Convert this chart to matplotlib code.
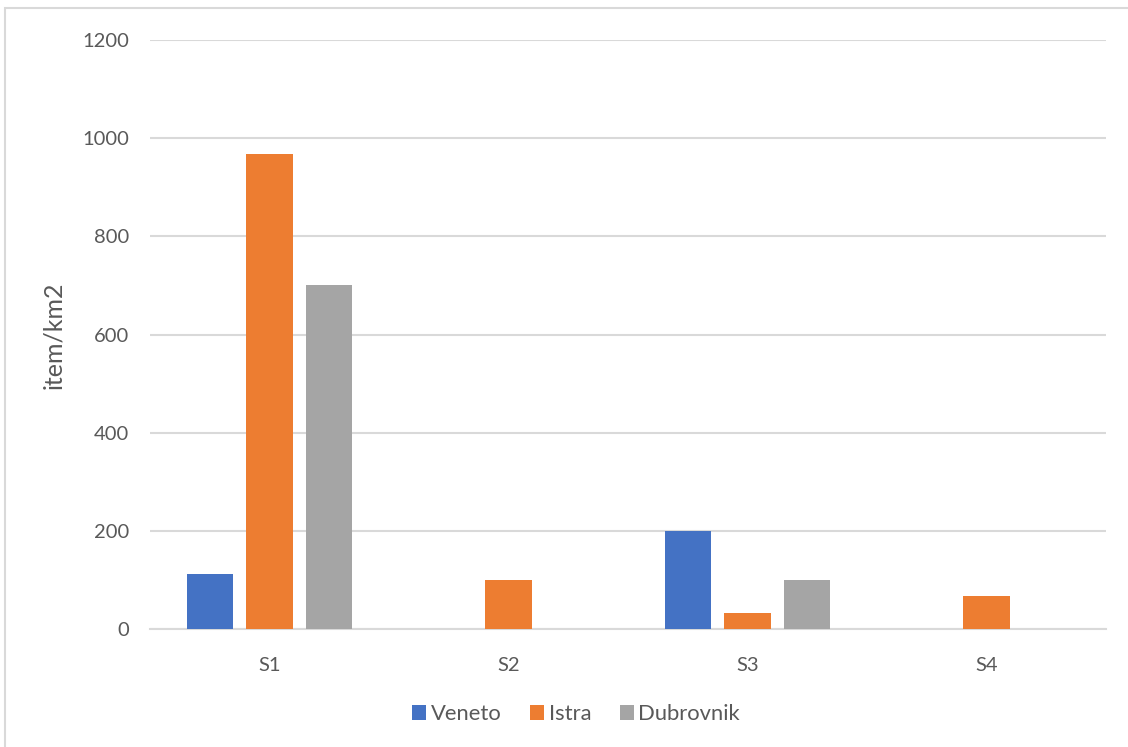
import numpy as np
import matplotlib
matplotlib.use("Agg")
import matplotlib.pyplot as plt
from matplotlib.patches import Rectangle

# item density per site and region
sites = ["S1", "S2", "S3", "S4"]
veneto = [113, 0, 200, 0]
istra = [967, 100, 33, 67]
dubrovnik = [700, 0, 100, 0]

series = [("Veneto", veneto, "#4472C4"),
          ("Istra", istra, "#ED7D31"),
          ("Dubrovnik", dubrovnik, "#A5A5A5")]

plt.rcParams['font.family'] = ['Lato', 'DejaVu Sans']
text_color = "#595959"
grid_color = "#D9D9D9"

fig = plt.figure(figsize=(11.28, 7.47), dpi=100)
ax = fig.add_axes([150 / 1128, 1 - 629 / 747, (1106 - 150) / 1128, (629 - 40) / 747])

# chart frame
fig.patches.append(Rectangle((5 / 1128, -0.05), 1.1, 1 - 8 / 747 + 0.05,
                             transform=fig.transFigure, fill=False,
                             edgecolor=grid_color, linewidth=1.5))

x = np.arange(len(sites))
width = 0.193
offset = 0.249
for i, (name, vals, color) in enumerate(series):
    ax.bar(x + (i - 1) * offset, vals, width, color=color, label=name, zorder=3)

ax.set_xlim(-0.5, len(sites) - 0.5)
ax.set_ylim(0, 1200)
ax.set_yticks(np.arange(0, 1201, 200))
ax.set_xticks(x)
ax.set_xticklabels(sites)
ax.yaxis.grid(True, color=grid_color, linewidth=1.5, zorder=0)
ax.tick_params(length=0, colors=text_color, labelsize=14.5)
ax.tick_params(axis='y', pad=15)
ax.tick_params(axis='x', pad=20)

for side in ("top", "right", "left"):
    ax.spines[side].set_visible(False)
ax.spines["bottom"].set_color(grid_color)
ax.spines["bottom"].set_linewidth(1.5)

# axis title placed in figure space
fig.text(54 / 1128, 1 - 335 / 747, "item/km2", rotation=90, ha="center", va="center",
         fontsize=18, color=text_color)

fig.legend(loc="center", bbox_to_anchor=(576 / 1128, 1 - 714 / 747), ncol=3,
           frameon=False, fontsize=15.8, labelcolor=text_color,
           handlelength=0.65, handleheight=0.65, handletextpad=0.2, columnspacing=1.3)

fig.savefig("out.png", dpi=100)
